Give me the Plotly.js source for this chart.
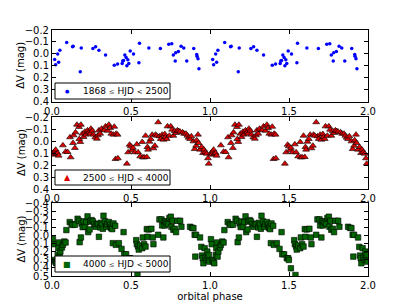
<!DOCTYPE html>
<html><head><meta charset="utf-8">
<script src="https://cdn.plot.ly/plotly-3.0.1.min.js"></script>
<style>html,body{margin:0;padding:0;background:#fff}#c{width:409px;height:307px}</style>
</head><body><div id="c"></div>
<script>
// Panel 1: 1868 <= HJD < 2500 (phase in [0,1), delta V in mag)
const phase1 = [0.017,0.023,0.036,0.042,0.05,0.093,0.13,0.134,0.185,0.179,0.259,0.276,0.297,0.339,0.394,0.415,0.444,0.448,0.453,0.461,0.469,0.474,0.48,0.486,0.495,0.516,0.554,0.55,0.613,0.686,0.739,0.758,0.768,0.783,0.78,0.8,0.817,0.834,0.853,0.897,0.916,0.918,0.924,0.93];
const dv1 = [0.046,0.09,0.0,0.07,-0.03,-0.095,-0.06,-0.065,-0.05,0.15,-0.045,-0.06,-0.03,0.01,0.095,0.085,0.08,0.06,0.055,0.01,0.03,0.10,0.05,0.08,-0.025,0.0,-0.09,0.075,-0.05,-0.045,-0.08,-0.085,0.01,-0.01,0.06,-0.02,-0.065,-0.05,0.06,-0.045,0.005,0.02,0.04,0.125];

// Panel 2: 2500 <= HJD < 4000
const phase2 = [0.006,0.011,0.017,0.023,0.027,0.036,0.042,0.069,0.086,0.099,0.118,0.114,0.133,0.137,0.145,0.149,0.158,0.171,0.183,0.179,0.173,0.192,0.2,0.208,0.215,0.225,0.234,0.242,0.246,0.255,0.263,0.274,0.284,0.291,0.297,0.305,0.314,0.331,0.339,0.352,0.36,0.368,0.375,0.389,0.394,0.406,0.415,0.402,0.417,0.474,0.482,0.491,0.499,0.507,0.512,0.524,0.537,0.545,0.558,0.571,0.575,0.583,0.592,0.6,0.604,0.608,0.617,0.625,0.634,0.642,0.651,0.655,0.663,0.672,0.68,0.688,0.697,0.705,0.714,0.718,0.726,0.731,0.743,0.752,0.76,0.768,0.777,0.785,0.794,0.802,0.811,0.827,0.836,0.848,0.857,0.865,0.874,0.882,0.895,0.903,0.912,0.916,0.924,0.928,0.937,0.947,0.956,0.962,0.971,0.979,0.987,0.992];
const dv2 = [0.1,0.114,0.086,0.072,0.108,0.1,0.122,0.036,0.089,0.092,0.136,-0.031,0.017,-0.047,0.058,-0.072,-0.136,-0.117,-0.136,0.008,-0.017,-0.061,-0.033,-0.078,-0.053,-0.089,-0.072,-0.061,-0.103,-0.086,-0.053,-0.031,-0.019,-0.047,-0.089,-0.061,-0.103,-0.089,-0.122,-0.086,-0.136,-0.108,-0.061,-0.053,-0.119,-0.061,-0.053,0.15,0.144,0.189,0.094,0.031,0.044,0.078,0.056,0.094,0.028,0.094,0.128,0.008,0.136,0.136,-0.044,0.133,0.05,0.072,0.006,-0.017,-0.053,0.061,0.039,-0.053,-0.044,-0.156,-0.039,-0.017,-0.053,-0.011,-0.058,-0.033,-0.017,-0.122,-0.044,-0.122,-0.094,-0.044,-0.083,-0.067,-0.089,-0.083,-0.078,-0.072,-0.061,-0.061,-0.044,-0.028,-0.017,-0.039,0.003,0.067,0.039,-0.006,-0.053,0.017,0.072,0.05,0.1,0.072,0.094,0.106,0.144,0.189];

// Panel 3: 4000 <= HJD < 5000
const phase3 = [0.006,0.011,0.015,0.021,0.027,0.036,0.04,0.044,0.048,0.053,0.063,0.069,0.078,0.086,0.091,0.112,0.124,0.13,0.145,0.162,0.171,0.175,0.183,0.187,0.194,0.2,0.208,0.217,0.225,0.229,0.238,0.242,0.251,0.259,0.267,0.276,0.284,0.291,0.297,0.305,0.309,0.316,0.322,0.326,0.335,0.343,0.349,0.36,0.368,0.373,0.377,0.381,0.385,0.389,0.4,0.404,0.423,0.44,0.453,0.457,0.469,0.486,0.495,0.499,0.512,0.533,0.537,0.541,0.545,0.549,0.558,0.571,0.575,0.583,0.592,0.6,0.604,0.613,0.629,0.638,0.642,0.672,0.68,0.693,0.697,0.705,0.709,0.714,0.718,0.726,0.735,0.743,0.752,0.756,0.762,0.768,0.777,0.785,0.794,0.811,0.819,0.874,0.886,0.895,0.903,0.912,0.907,0.937,0.945,0.949,0.954,0.958,0.966,0.971,0.979,0.983,0.987,0.992,0.996];
const dv3 = [0.046,0.108,0.302,0.323,0.343,0.24,0.157,0.087,0.261,0.199,0.149,0.116,0.075,0.087,-0.066,-0.165,-0.14,-0.13,-0.132,-0.206,-0.181,0.083,0.025,-0.148,-0.103,-0.173,-0.107,-0.165,-0.235,-0.041,-0.074,-0.173,-0.189,-0.173,-0.14,-0.107,-0.144,-0.14,0.017,-0.099,-0.156,-0.132,-0.082,-0.243,-0.173,-0.107,-0.14,-0.165,-0.132,-0.09,-0.107,-0.078,0.095,-0.148,-0.119,0.116,0.095,0.166,-0.041,0.232,0.232,0.281,0.281,0.302,0.405,0.058,0.108,0.488,0.137,0.174,0.124,0.157,0.025,0.108,0.137,-0.078,0.017,-0.074,-0.082,0.025,0.108,-0.008,-0.198,-0.198,-0.123,0.025,-0.173,-0.123,-0.173,-0.156,-0.14,-0.214,-0.231,-0.107,-0.181,-0.07,-0.082,-0.041,-0.181,-0.181,-0.107,-0.107,-0.094,-0.09,-0.008,-0.008,0.261,0.025,0.141,0.248,0.281,0.343,0.157,0.273,0.302,0.199,0.281,0.24,0.323];

const hjdFrom = ["1868", "2500", "4000"];
const hjdTo = ["2500", "4000", "5000"];
const xTicks = [0, 0.5, 1, 1.5, 2];

// two cycles of orbital phase
function twoCycles(p) { return p.concat(p.map(v => v + 1)); }

const F = "DejaVu Sans, sans-serif";
const colors = ['#0000ff', '#dd0000', '#006400'];
const glyphs = ['\u25CF', '\u25B2', '\u25A0'];
const glyphSize = [5, 8, 8];

const traces = [
  {x: twoCycles(phase1), y: dv1.concat(dv1), type: 'scatter', mode: 'markers', name: 'p1',
   xaxis: 'x', yaxis: 'y', showlegend: false,
   marker: {symbol: 'circle', size: 3.5, color: colors[0], line: {width: 0}}},
  {x: twoCycles(phase2), y: dv2.concat(dv2), type: 'scatter', mode: 'markers', name: 'p2',
   xaxis: 'x2', yaxis: 'y2', showlegend: false,
   marker: {symbol: 'triangle-up', size: 6, color: colors[1], line: {width: 0.6, color: '#000'}}},
  {x: twoCycles(phase3), y: dv3.concat(dv3), type: 'scatter', mode: 'markers', name: 'p3',
   xaxis: 'x3', yaxis: 'y3', showlegend: false,
   marker: {symbol: 'square', size: 5.5, color: colors[2], line: {width: 0.6, color: '#000'}}}
];

function xa(anchor, title) {
  const a = {domain: [52/409, 368/409], range: [0, 2], tickvals: xTicks, ticktext: xTicks.map(v => v.toFixed(1)),
    anchor: anchor, showline: true, linecolor: '#000', linewidth: 1, mirror: 'allticks',
    ticks: 'inside', ticklen: 4, tickcolor: '#000', showgrid: false, zeroline: false,
    tickfont: {family: F, size: 10, color: '#000'}};
  if (title) a.title = {text: title, font: {family: F, size: 10, color: '#000'}, standoff: 0};
  return a;
}
function ya(anchor, dom, range) {
  return {domain: dom, range: range, dtick: 0.1, tick0: 0, tickformat: '.1f', anchor: anchor,
    showline: true, linecolor: '#000', linewidth: 1, mirror: 'allticks',
    ticks: 'inside', ticklen: 4, tickcolor: '#000', showgrid: false, zeroline: false,
    tickfont: {family: F, size: 10, color: '#000'}};
}

// panel geometry in pixels (top, bottom) and legend box (top, bottom)
const panels = [[30, 101.7], [117, 189], [203, 276]];
const boxes = [[83, 99], [170, 185], [256, 272]];
const py = v => 1 - v / 307;

const annotations = [];
const shapes = [];
for (let i = 0; i < 3; i++) {
  annotations.push({xref: 'paper', yref: 'paper', x: 21/409, y: py((panels[i][0] + panels[i][1]) / 2),
    xanchor: 'center', yanchor: 'middle', textangle: -90, showarrow: false,
    text: '\u0394V (mag)', font: {family: F, size: 10, color: '#000'}});
  shapes.push({type: 'rect', xref: 'paper', yref: 'paper', x0: 55/409, x1: 170/409,
    y0: py(boxes[i][1]), y1: py(boxes[i][0]), line: {color: '#000', width: 1}, fillcolor: '#fff', layer: 'above'});
  const cy = py((boxes[i][0] + boxes[i][1]) / 2);
  annotations.push({xref: 'paper', yref: 'paper', x: 67/409, y: cy, xanchor: 'center', yanchor: 'middle',
    showarrow: false, text: glyphs[i], font: {family: F, size: glyphSize[i], color: colors[i]}});
  annotations.push({xref: 'paper', yref: 'paper', x: 82/409, y: cy, xanchor: 'left', yanchor: 'middle',
    showarrow: false, borderpad: 0, font: {family: F, size: 9, color: '#000'},
    text: hjdFrom[i] + ' <span style="font-size:7px;fill:#555">\u2264</span> HJD <span style="font-size:7px">&lt;</span> ' + hjdTo[i]});
}

const layout = {
  width: 409, height: 307, margin: {l: 0, r: 0, t: 0, b: 0},
  paper_bgcolor: '#fff', plot_bgcolor: '#fff', showlegend: false,
  xaxis: xa('y'), yaxis: ya('x', [py(panels[0][1]), py(panels[0][0])], [0.4, -0.2]),
  xaxis2: xa('y2'), yaxis2: ya('x2', [py(panels[1][1]), py(panels[1][0])], [0.4, -0.2]),
  xaxis3: xa('y3', 'orbital phase'), yaxis3: ya('x3', [py(panels[2][1]), py(panels[2][0])], [0.5, -0.4]),
  shapes: shapes, annotations: annotations
};

Plotly.newPlot('c', traces, layout, {staticPlot: true, displayModeBar: false});
</script></body></html>
